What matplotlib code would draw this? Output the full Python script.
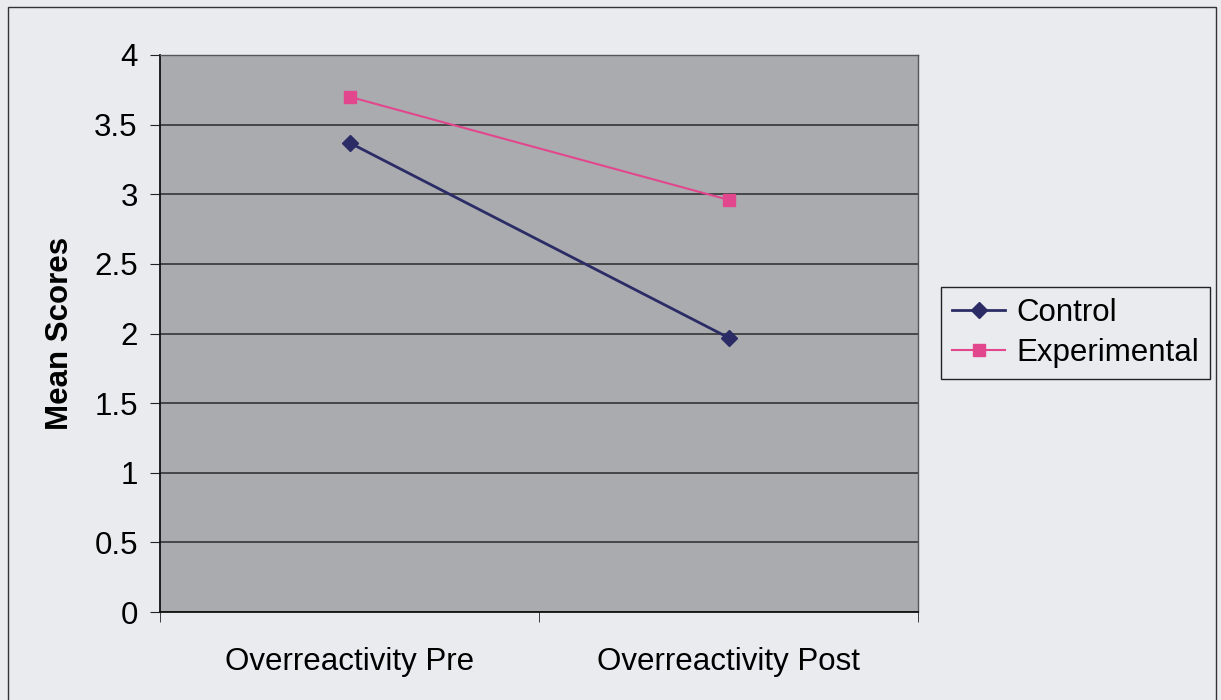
import matplotlib.pyplot as plt
from matplotlib.patches import Rectangle

# data
categories = ['Overreactivity Pre', 'Overreactivity Post']
control = [3.37, 1.97]
experimental = [3.70, 2.96]
yticks = [0, 0.5, 1, 1.5, 2, 2.5, 3, 3.5, 4]
ytick_labels = ['0', '0.5', '1', '1.5', '2', '2.5', '3', '3.5', '4']

plt.rcParams['font.family'] = ['Liberation Sans', 'DejaVu Sans']
fs = 22.5

fig = plt.figure(figsize=(12.21, 7), dpi=100)
fig.patch.set_facecolor('#e9ebef')
ax = fig.add_axes([160/1221, 1 - 612/700, (918 - 160)/1221, (612 - 55)/700])
ax.set_facecolor('#a9abaf')

x = list(range(len(categories)))
ax.plot(x, control, color='#2b2c66', lw=2, marker='D', ms=8, label='Control', zorder=3)
ax.plot(x, experimental, color='#e2478d', lw=1.5, marker='s', ms=9, label='Experimental', zorder=3)

ax.set_ylim(0, 4)
ax.set_xlim(-0.5, 1.5)
ax.set_yticks(yticks)
ax.set_yticklabels(ytick_labels)
ax.yaxis.grid(True, color='#2a2a2a', lw=1.1)
ax.set_axisbelow(True)

ax.set_xticks(x)
ax.set_xticklabels(categories)
ax.set_xticks([-0.5, 0.5, 1.5], minor=True)
ax.tick_params(axis='x', which='major', length=0, pad=25, labelsize=fs)
ax.tick_params(axis='x', which='minor', length=7, direction='out', color='#222')
ax.tick_params(axis='y', length=7, direction='out', pad=9, labelsize=fs, color='#222')

ax.set_ylabel('Mean Scores', fontsize=fs, fontweight='bold', labelpad=14)

for side in ['left', 'bottom']:
    ax.spines[side].set_color('#111')
    ax.spines[side].set_linewidth(1.3)
for side in ['top', 'right']:
    ax.spines[side].set_color('#555')
    ax.spines[side].set_linewidth(1)

leg = fig.legend(loc='center left', bbox_to_anchor=(941/1221, 1 - 333/700), fontsize=fs,
                 frameon=True, fancybox=False, edgecolor='#222', facecolor='#e9ebef',
                 framealpha=1, handlelength=1.7, handletextpad=0.35, borderpad=0.35,
                 labelspacing=0.3, borderaxespad=0)
leg.get_frame().set_linewidth(1)

# outer chart border
fig.patches.append(Rectangle((8/1221, -0.02), 1208/1221, 1 - 7/700 + 0.02,
                             transform=fig.transFigure, fill=False, edgecolor='#333', lw=1))

plt.savefig('out.png', dpi=100, facecolor=fig.get_facecolor())
